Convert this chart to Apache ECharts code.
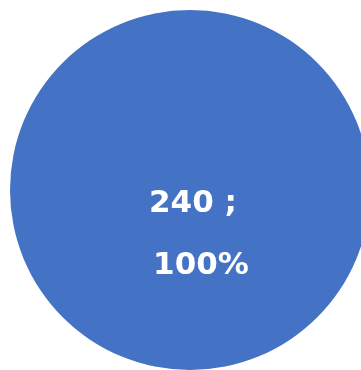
<!DOCTYPE html>
<html><head><meta charset="utf-8">
<script src="https://cdn.jsdelivr.net/npm/echarts@6/dist/echarts.min.js"></script>
<style>html,body{margin:0;padding:0;background:#fff}#c{width:361px;height:370px}</style>
</head><body><div id="c"></div>
<script>
const categories = ['Total'];
const values = [240];
const percents = ['100%'];
const chart = echarts.init(document.getElementById('c'), null, {renderer: 'canvas'});
chart.setOption({
  animation: false,
  series: [{
    type: 'pie',
    center: [190, 190],
    radius: [0, 180],
    startAngle: 90,
    silent: true,
    itemStyle: { color: '#4472C4', borderWidth: 0 },
    label: {
      show: true,
      position: 'center',
      offset: [11, 45],
      formatter: (p) => '{a|' + values[p.dataIndex] + ' ;}\n{b|' + percents[p.dataIndex] + '}',
      rich: {
        a: { fontFamily: 'DejaVu Sans', fontWeight: 'bold', fontSize: 31, color: '#fff', lineHeight: 62, padding: [0, 16, 0, 0] },
        b: { fontFamily: 'DejaVu Sans', fontWeight: 'bold', fontSize: 31, color: '#fff', lineHeight: 62 }
      }
    },
    labelLine: { show: false },
    data: categories.map((c, i) => ({ name: c, value: values[i] }))
  }]
});
</script></body></html>
